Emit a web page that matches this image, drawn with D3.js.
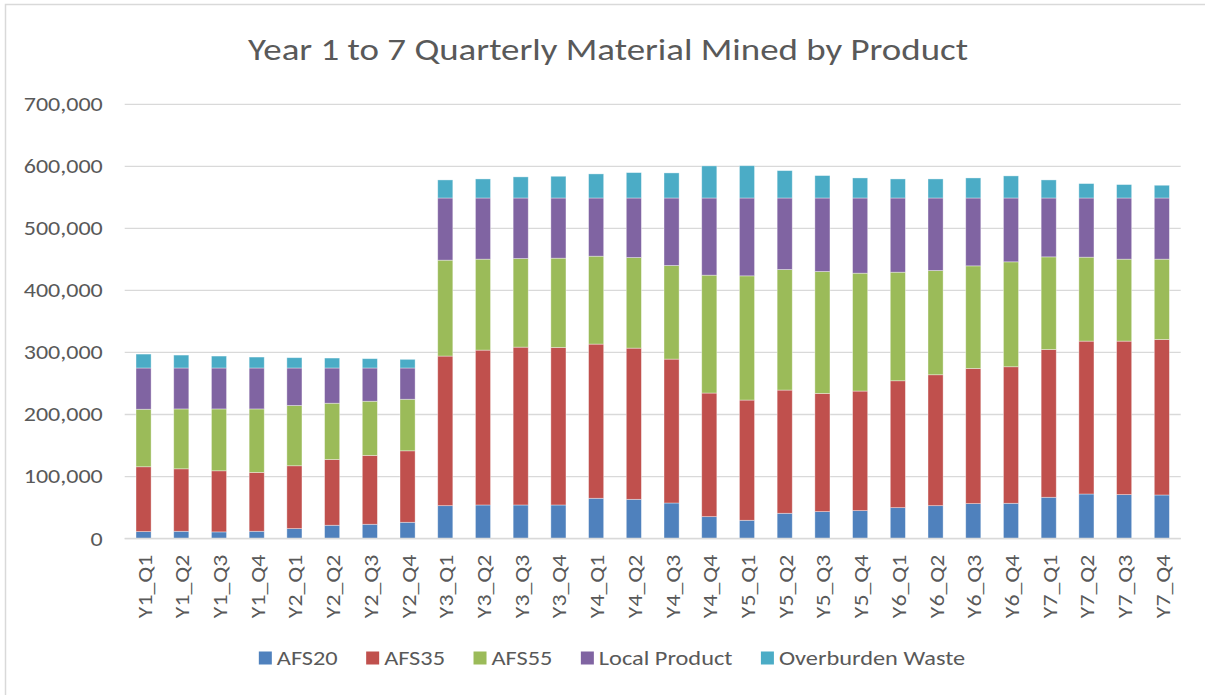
<!DOCTYPE html>
<html>
<head>
<meta charset="utf-8">
<script src="https://cdn.jsdelivr.net/npm/d3@7"></script>
<style>
  body { margin: 0; background: #fff; }
  svg { display: block; }
  text { font-family: Carlito, Calibri, Lato, sans-serif; fill: #595959; }
</style>
</head>
<body>
<div class="CHART"></div>
<script>
// quarters along the x axis
var quarters = ["Y1_Q1","Y1_Q2","Y1_Q3","Y1_Q4","Y2_Q1","Y2_Q2","Y2_Q3","Y2_Q4",
                "Y3_Q1","Y3_Q2","Y3_Q3","Y3_Q4","Y4_Q1","Y4_Q2","Y4_Q3","Y4_Q4",
                "Y5_Q1","Y5_Q2","Y5_Q3","Y5_Q4","Y6_Q1","Y6_Q2","Y6_Q3","Y6_Q4",
                "Y7_Q1","Y7_Q2","Y7_Q3","Y7_Q4"];

// tonnes per product
var afs20 = [11300,11800,10800,11800,16100,21500,23100,26300,53100,54200,54200,54200,65000,63300,
             57400,35400,29500,40800,43500,45100,49900,53100,56400,56900,66600,71900,70900,70300];
var afs35 = [104500,100700,98500,94900,101300,106100,111000,115200,241100,249600,254400,253900,248500,243700,
             231900,199200,193800,198600,190500,192700,204500,211000,217900,220100,238300,246400,247400,250700];
var afs55 = [92700,96500,99700,102300,97100,90600,87300,83100,154600,146600,142800,143900,141700,146000,
             150900,190000,200200,194300,196500,190000,175000,168000,165300,169100,149200,135300,132100,129400];
var localProduct = [66500,66000,66000,66000,60500,56800,53600,50400,100200,98600,97600,97000,93800,96000,
                    108800,124400,125500,115300,118500,121200,119600,116900,109400,102900,94900,95400,98600,98600];
var overburden = [22400,20800,19200,17600,16600,16000,15000,13900,29100,30700,34000,35000,38800,40900,
                  40400,51700,52000,44100,36100,32300,30700,30700,32300,35600,29100,23200,21600,20500];

var seriesNames = ["AFS20","AFS35","AFS55","Local Product","Overburden Waste"];
var seriesColors = ["#4F81BD","#C0504D","#9BBB59","#8064A2","#4BACC6"];
var yTicks = [0,100000,200000,300000,400000,500000,600000,700000];

var W = 1205, H = 695;
var margin = {top: 104.3, right: 24.3, bottom: 156.4, left: 124.7},
    width = W - margin.left - margin.right,
    height = H - margin.top - margin.bottom;

// the screenshot's font is a little wider than the local one, stretch text to match
function stretch(sel, k) {
    sel.each(function() {
        var len = this.getComputedTextLength();
        d3.select(this).attr("textLength", len * k).attr("lengthAdjust", "spacingAndGlyphs");
    });
}

var svg = d3.select(".CHART").append("svg")
    .attr("width", W)
    .attr("height", H);

// chart border (runs off right / bottom like the screenshot)
svg.append("rect")
    .attr("x", 5.5).attr("y", 4.5)
    .attr("width", W + 10).attr("height", H + 10)
    .attr("fill", "none")
    .attr("stroke", "#D9D9D9")
    .attr("stroke-width", 1.5);

var title = svg.append("text")
    .attr("x", 608)
    .attr("y", 59.5)
    .attr("text-anchor", "middle")
    .style("font-size", "31px")
    .text("Year 1 to 7 Quarterly Material Mined by Product");
stretch(title, 1.19);

var g = svg.append("g").attr("transform", "translate(" + margin.left + "," + margin.top + ")");

var scaleX = d3.scaleBand()
    .domain(quarters)
    .range([0, width])
    .paddingInner(0.6)
    .paddingOuter(0.3);

var scaleY = d3.scaleLinear()
    .domain([0, 700000])
    .range([height, 0]);

// gridlines
g.selectAll(".grid")
    .data(yTicks)
    .enter()
    .append("line")
    .attr("x1", 0).attr("x2", width)
    .attr("y1", function(d) {return scaleY(d);})
    .attr("y2", function(d) {return scaleY(d);})
    .attr("stroke", "#D9D9D9")
    .attr("stroke-width", 1.3);

// y axis labels
var yAxis = d3.axisLeft(scaleY)
    .tickValues(yTicks)
    .tickSize(0)
    .tickPadding(22)
    .tickFormat(d3.format(","));
var yg = g.append("g").call(yAxis);
yg.select(".domain").remove();
yg.selectAll("text").style("font-size", "20px").attr("fill", "#595959");
stretch(yg.selectAll("text"), 1.2);

// stack the products
var rows = quarters.map(function(q, i) {
    return {q: q, AFS20: afs20[i], AFS35: afs35[i], AFS55: afs55[i],
            "Local Product": localProduct[i], "Overburden Waste": overburden[i]};
});
var stacked = d3.stack().keys(seriesNames)(rows);

g.selectAll(".layer")
    .data(stacked)
    .enter()
    .append("g")
    .attr("fill", function(d, i) {return seriesColors[i];})
    .selectAll("rect")
    .data(function(d) {return d;})
    .enter()
    .append("rect")
    .attr("x", function(d) {return scaleX(d.data.q);})
    .attr("width", scaleX.bandwidth())
    .attr("y", function(d) {return scaleY(d[1]);})
    .attr("height", function(d) {return scaleY(d[0]) - scaleY(d[1]);})
    .attr("stroke", "#fff")
    .attr("stroke-opacity", 0.45)
    .attr("stroke-width", 0.8);

// x axis
g.append("line")
    .attr("x1", 0).attr("x2", width)
    .attr("y1", height).attr("y2", height)
    .attr("stroke", "#D9D9D9")
    .attr("stroke-width", 1.5);

var xAxis = d3.axisBottom(scaleX).tickSize(0).tickPadding(0);
var xg = g.append("g").attr("transform", "translate(0," + height + ")").call(xAxis);
xg.select(".domain").remove();
xg.selectAll("text")
    .style("font-size", "20px")
    .attr("fill", "#595959")
    .attr("text-anchor", "end")
    .attr("dy", null)
    .attr("transform", "rotate(-90)")
    .attr("x", -16)
    .attr("y", 8);
stretch(xg.selectAll("text"), 1.19);

// legend
var legend = svg.append("g");
var items = legend.selectAll(".item")
    .data(seriesNames)
    .enter()
    .append("g");
items.append("rect")
    .attr("width", 13).attr("height", 13)
    .attr("y", 651.5)
    .attr("fill", function(d, i) {return seriesColors[i];});
items.append("text")
    .attr("x", 18)
    .attr("y", 665)
    .style("font-size", "21px")
    .text(function(d) {return d;});
stretch(items.selectAll("text"), 1.16);

var pos = [], cx = 0;
items.each(function(d, i) {
    var w = 18 + d3.select(this).select("text").node().getComputedTextLength();
    pos.push(cx);
    cx += w + 28.5;
});
var total = cx - 28.5;
var startX = 612 - total / 2;
items.attr("transform", function(d, i) {return "translate(" + (startX + pos[i]) + ",0)";});
</script>
</body>
</html>
